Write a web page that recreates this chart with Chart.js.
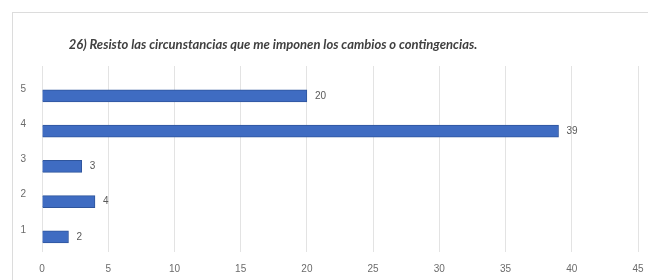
<!DOCTYPE html>
<html>
<head>
<meta charset="utf-8">
<script src="https://cdn.jsdelivr.net/npm/chart.js@4"></script>
<style>
  body { margin: 0; background: #fff; }
  #wrap { position: relative; width: 648px; height: 280px; overflow: hidden; }
  #frame { position: absolute; left: 12px; top: 12px; width: 700px; height: 300px;
           border-left: 1px solid #dcdcdc; border-top: 1px solid #dcdcdc; }
  #title { position: absolute; left: 40px; width: 466px; top: 36px; text-align: center;
           white-space: nowrap;
           font: italic bold 13px Lato, "Liberation Sans", sans-serif;
           color: #404040; }
  canvas { position: absolute; left: 0; top: 0; }
</style>
</head>
<body>
<div id="wrap">
  <div id="frame"></div>
  <canvas id="ChartPregunta26" width="648" height="280"></canvas>
  <div id="title">26) Resisto las circunstancias que me imponen los cambios o contingencias.</div>
</div>
<script>
// respuestas (escala 1-5) y cantidad de personas
const categorias = ['1', '2', '3', '4', '5'];
const valores = [2, 4, 3, 39, 20];
const xTicks = [0, 5, 10, 15, 20, 25, 30, 35, 40, 45];

const puntos = categorias.map((c, i) => ({ x: valores[i], y: i + 1 }));

const ctx = document.getElementById('ChartPregunta26').getContext('2d');
new Chart(ctx, {
    type: 'bar',
    data: {
        datasets: [{
            data: puntos,
            backgroundColor: '#3f6cc2',
            borderColor: '#2f559c',
            borderWidth: 1,
            barThickness: 12
        }]
    },
    options: {
        responsive: false,
        animation: false,
        indexAxis: 'y',
        layout: {
            padding: { left: 12, right: 10, top: 66, bottom: 0 }
        },
        plugins: {
            legend: { display: false },
            tooltip: { enabled: false }
        },
        scales: {
            x: {
                type: 'linear',
                min: xTicks[0],
                max: xTicks[xTicks.length - 1],
                grid: { color: '#e3e3e3', drawTicks: false },
                border: { display: false },
                afterFit(scale) {
                    scale.height = 28;
                    scale.paddingRight = 0; // que la ultima etiqueta no encoja el area
                },
                ticks: {
                    stepSize: 5,
                    padding: 11,
                    color: '#6b6b6b',
                    font: { family: 'Liberation Sans', size: 10 }
                }
            },
            y: {
                type: 'linear',
                offset: false,
                min: 0.57,
                max: 5.85,
                grid: { display: false },
                border: { display: false },
                afterFit(scale) { scale.width = 30; },
                ticks: {
                    stepSize: 1,
                    includeBounds: false,
                    padding: 8,
                    labelOffset: -7,
                    color: '#6b6b6b',
                    font: { family: 'Liberation Sans', size: 10 },
                    callback: v => categorias[v - 1]
                }
            }
        }
    },
    plugins: [
        {
            id: 'valueLabelsPlugin',
            afterDatasetsDraw(chart) {
                const { ctx } = chart;
                ctx.save();
                ctx.font = '10px "Liberation Sans"';
                ctx.fillStyle = '#595959';
                ctx.textAlign = 'left';
                ctx.textBaseline = 'middle';
                const meta = chart.getDatasetMeta(0);
                meta.data.forEach((bar, index) => {
                    ctx.fillText(valores[index], bar.x + 8, bar.y); // valor al final de la barra
                });
                ctx.restore();
            }
        }
    ]
});
</script>
</body>
</html>
